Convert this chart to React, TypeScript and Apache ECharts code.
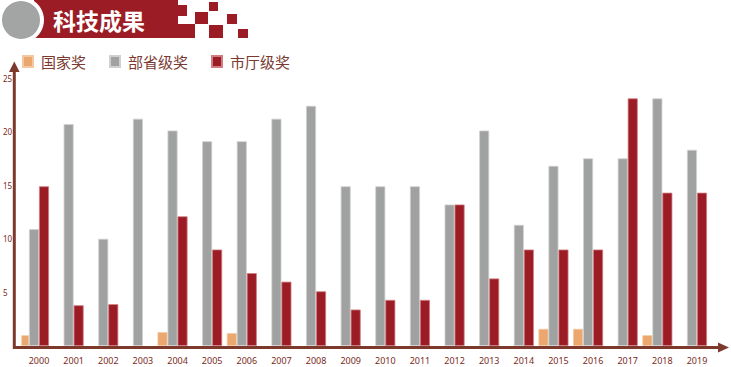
import React, { useEffect, useRef } from "react";
import * as echarts from "echarts";

const years = ["2000","2001","2002","2003","2004","2005","2006","2007","2008","2009","2010","2011","2012","2013","2014","2015","2016","2017","2018","2019"];
const national = [1.0, null, null, null, 1.3, null, 1.2, null, null, null, null, null, null, null, null, 1.6, 1.6, null, 1.0, null];
const provincial = [10.9, 20.7, 10.0, 21.2, 20.1, 19.1, 19.1, 21.2, 22.4, 14.9, 14.9, 14.9, 13.2, 20.1, 11.3, 16.8, 17.5, 17.5, 23.1, 18.3];
const municipal = [14.9, 3.8, 3.9, null, 12.1, 9.0, 6.8, 6.0, 5.1, 3.4, 4.3, 4.3, 13.2, 6.3, 9.0, 9.0, 9.0, 23.1, 14.3, 14.3];
const spacer = years.map(() => null);
const seriesNames = ["国家奖", "部省级奖", "市厅级奖"];
const title = "科技成果";

const AXIS = "#7d3a2c";
const RED = "#9b1c24";

export default function App() {
  const ref = useRef<HTMLDivElement>(null);
  useEffect(() => {
    const chart = echarts.init(ref.current!, null, { renderer: "svg" });
    const bar = (name: string, data: any[], color: string, border: string) => ({
      name,
      type: "bar",
      xAxisIndex: 0,
      yAxisIndex: 0,
      data,
      barWidth: 10,
      barGap: "0%",
      itemStyle: { color, borderColor: border, borderWidth: 0.8 },
      z: 3,
    });
    chart.setOption({
      animation: false,
      legend: {
        data: seriesNames,
        left: 17,
        top: 49,
        icon: "rect",
        itemWidth: 10,
        itemHeight: 11,
        itemGap: 23,
        textStyle: { fontSize: 15, color: "#7a3a30", fontFamily: "Noto Sans CJK SC", padding: [0, 0, 0, 3] },
      },
      grid: [
        { left: 21.7, right: 16.7, top: 78, bottom: 21 },
        { left: 14, right: 11, top: 78, bottom: 21 },
      ],
      xAxis: [
        {
          type: "category",
          gridIndex: 0,
          data: years,
          axisLine: { show: false },
          axisTick: { show: false },
          axisLabel: { color: "#7b2a22", fontSize: 9, margin: 10, fontFamily: "Noto Sans" },
        },
        { type: "value", gridIndex: 1, show: false, min: 0, max: 1 },
      ],
      yAxis: [
        { type: "value", gridIndex: 0, min: 0, max: 25, interval: 5, show: false },
        {
          type: "value",
          gridIndex: 1,
          min: 0,
          max: 25,
          interval: 5,
          axisLine: { show: false },
          axisTick: { show: false },
          axisLabel: {
            color: "#7b2a22",
            fontSize: 8,
            align: "left",
            margin: 12,
            fontFamily: "Noto Sans",
            formatter: (v: number) => (v === 0 ? "" : String(v)),
          },
          splitLine: {
            lineStyle: {
              color: "#8c4a3c",
              width: 1.2,
              shadowColor: "rgba(170,120,110,0.55)",
              shadowOffsetY: 1.5,
              shadowBlur: 0,
            },
          },
        },
      ],
      series: [
        bar(seriesNames[0], national, "#eba76e", "#f3c9a3"),
        bar(seriesNames[1], provincial, "#a0a2a1", "#cfd0cf"),
        bar(seriesNames[2], municipal, RED, "#cf7d82"),
        { ...bar("spacer", spacer, "transparent", "transparent"), itemStyle: { color: "transparent" } },
      ],
      graphic: [
        { type: "rect", shape: { x: 34, y: 0, width: 144, height: 38 }, style: { fill: RED }, z: 10 },
        { type: "rect", shape: { x: 177, y: 5, width: 10, height: 11 }, style: { fill: RED }, z: 10 },
        { type: "rect", shape: { x: 177, y: 24, width: 18, height: 14 }, style: { fill: RED }, z: 10 },
        { type: "rect", shape: { x: 195, y: 12, width: 13, height: 12 }, style: { fill: RED }, z: 10 },
        { type: "rect", shape: { x: 209, y: 2, width: 9, height: 9 }, style: { fill: RED }, z: 10 },
        { type: "rect", shape: { x: 227, y: 14, width: 10, height: 10 }, style: { fill: RED }, z: 10 },
        { type: "rect", shape: { x: 209, y: 25, width: 14, height: 13 }, style: { fill: RED }, z: 10 },
        { type: "rect", shape: { x: 238, y: 29, width: 10, height: 9 }, style: { fill: RED }, z: 10 },
        { type: "circle", shape: { cx: 21, cy: 20, r: 23 }, style: { fill: "#ffffff" }, z: 11 },
        { type: "circle", shape: { cx: 21, cy: 20, r: 19 }, style: { fill: "#a3a4a4" }, z: 12 },
        {
          type: "text",
          x: 53,
          y: 20,
          style: {
            text: title,
            fill: "#ffffff",
            font: 'bold 23px "Noto Sans CJK SC"',
            verticalAlign: "middle",
            align: "left",
          },
          z: 12,
        },
        { type: "line", shape: { x1: 14.3, y1: 349, x2: 14.3, y2: 70 }, style: { stroke: AXIS, lineWidth: 3 }, z: 20 },
        { type: "polygon", shape: { points: [[14.3, 61.5], [9, 72], [19.6, 72]] }, style: { fill: AXIS }, z: 20 },
        { type: "line", shape: { x1: 13, y1: 347.5, x2: 721, y2: 347.5 }, style: { stroke: AXIS, lineWidth: 3 }, z: 20 },
        { type: "polygon", shape: { points: [[729, 347.5], [718, 342.5], [718, 352.5]] }, style: { fill: AXIS }, z: 20 },
      ],
    });
    return () => chart.dispose();
  }, []);
  return <div ref={ref} style={{ width: 731, height: 367, position: "absolute", left: 0, top: 0 }} />;
}
